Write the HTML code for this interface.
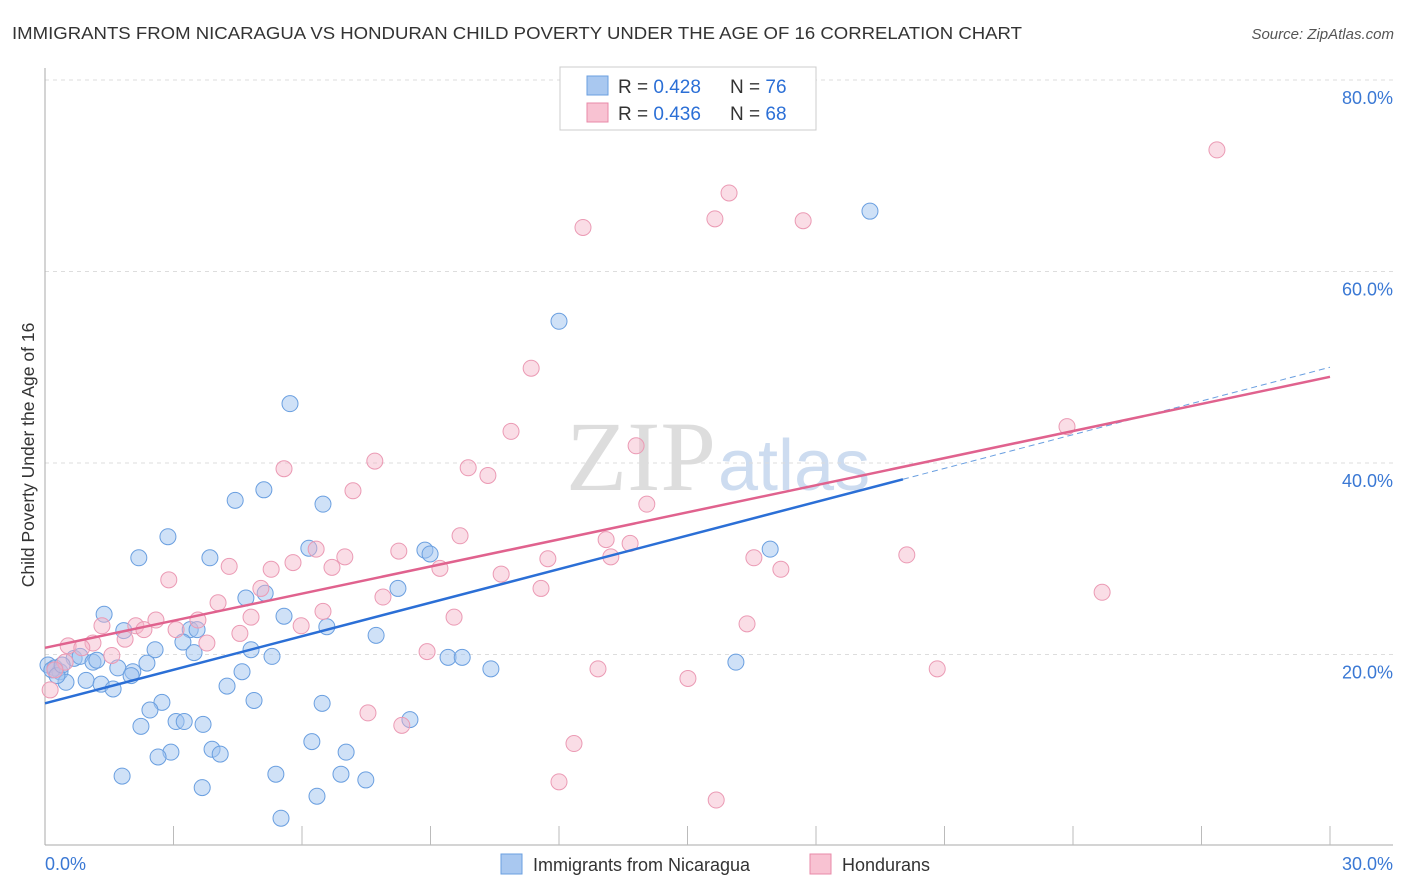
<!DOCTYPE html>
<html><head><meta charset="utf-8"><style>
body{margin:0;background:#fff;font-family:"Liberation Sans",sans-serif;}
svg{display:block}
</style></head><body>
<svg id="chart" width="1406" height="892">
<text x="12" y="39" font-size="17.5" fill="#333" textLength="1010" lengthAdjust="spacingAndGlyphs">IMMIGRANTS FROM NICARAGUA VS HONDURAN CHILD POVERTY UNDER THE AGE OF 16 CORRELATION CHART</text>
<text x="1394" y="39" font-size="15" fill="#555" font-style="italic" text-anchor="end">Source: ZipAtlas.com</text>
<text x="716" y="490" font-size="100" fill="#ddd" text-anchor="end" font-family="Liberation Serif">ZIP</text>
<text x="718" y="490" font-size="72" fill="#cddcf0">atlas</text>
<g id="grid"></g><g id="axes"></g><g id="pts"></g><g id="trend"></g>
<text transform="translate(34,455) rotate(-90)" font-size="17.5" fill="#333" text-anchor="middle">Child Poverty Under the Age of 16</text>
<g>
<rect x="560" y="67" width="256" height="63" fill="#fff" stroke="#ccc"/>
<rect x="587" y="76" width="21" height="19" fill="#a9c8f0" stroke="#6a9fe0"/>
<rect x="587" y="103" width="21" height="19" fill="#f8c2d2" stroke="#e88aa8"/>
<text x="618" y="93" font-size="19" fill="#333">R = <tspan fill="#2b6fd6">0.428</tspan></text>
<text x="730" y="93" font-size="19" fill="#333">N = <tspan fill="#2b6fd6">76</tspan></text>
<text x="618" y="120" font-size="19" fill="#333">R = <tspan fill="#2b6fd6">0.436</tspan></text>
<text x="730" y="120" font-size="19" fill="#333">N = <tspan fill="#2b6fd6">68</tspan></text>
</g>
<g>
<rect x="501" y="854" width="21" height="20" fill="#a9c8f0" stroke="#6a9fe0"/>
<text x="533" y="871" font-size="18" fill="#333">Immigrants from Nicaragua</text>
<rect x="810" y="854" width="21" height="20" fill="#f8c2d2" stroke="#e88aa8"/>
<text x="842" y="871" font-size="18" fill="#333">Hondurans</text>
</g>
</svg>
<script>
const blueX=[19.26,12.0,5.72,4.44,5.11,6.49,2.87,2.19,3.85,6.16,8.87,8.99,16.93,8.24,4.69,5.14,1.38,5.58,6.58,1.84,3.39,3.55,7.73,3.22,2.57,3.48,4.81,5.30,9.41,9.74,16.13,10.41,0.07,0.23,0.35,0.49,0.68,0.82,1.12,1.21,0.96,1.31,1.59,1.70,2.05,2.01,2.38,4.60,4.25,2.73,4.88,6.47,2.45,3.06,3.25,3.69,2.24,8.52,6.23,7.03,3.90,4.09,2.94,2.64,1.80,5.39,6.91,7.49,3.67,6.35,5.51,0.16,0.28,0.40];
const blueY=[66.3,54.8,46.2,36.1,37.2,35.7,32.3,30.1,30.1,31.1,30.9,30.5,31.0,26.9,25.9,26.4,24.2,24.0,22.9,22.5,22.6,22.6,22.0,21.3,20.5,20.2,20.5,19.8,19.7,19.7,19.2,18.5,18.9,18.6,18.2,17.1,19.6,19.8,19.2,19.4,17.3,16.9,16.4,18.6,18.2,17.8,19.1,18.2,16.7,15.0,15.2,14.9,14.2,13.0,13.0,12.7,12.5,13.2,10.9,9.8,10.1,9.6,9.8,9.3,7.3,7.5,7.5,6.9,6.1,5.2,2.9,18.4,17.8,18.9];
const pinkX=[27.36,15.97,15.64,17.70,12.56,11.35,23.86,10.88,13.80,5.58,7.70,9.88,10.34,7.19,14.05,9.69,13.10,13.66,6.33,7.00,8.26,16.55,20.12,13.21,11.74,5.28,5.79,6.70,4.30,9.22,10.65,17.18,2.89,5.04,11.58,7.89,24.68,4.04,6.49,4.81,9.55,2.59,3.57,2.12,2.31,1.33,3.06,4.55,1.87,5.98,1.12,0.54,0.86,3.78,1.56,8.92,16.39,12.91,15.01,20.83,0.47,0.23,7.54,8.33,12.35,12.00,15.67,0.12];
const pinkY=[72.7,68.2,65.5,65.3,64.6,49.9,43.8,43.3,41.8,39.4,40.2,39.5,38.7,37.1,35.7,32.4,32.0,31.6,31.0,30.2,30.8,30.1,30.4,30.2,30.0,28.9,29.6,29.1,29.2,29.0,28.4,28.9,27.8,26.9,26.9,26.0,26.5,25.4,24.5,23.9,23.9,23.6,23.6,23.0,22.6,23.0,22.6,22.2,21.6,23.0,21.2,20.9,20.7,21.2,19.9,20.3,23.2,18.5,17.5,18.5,19.2,18.4,13.9,12.6,10.7,6.7,4.8,16.3];
const blueTrend=[14.9,38.3,50.0];
const blueTrendX=[0,20.03,30];
const pinkTrend=[20.7,49.0];
const pinkTrendX=[0,30];
const yTicks=[20,40,60,80];
const xTickLabels=["0.0%","30.0%"];
const NS="http://www.w3.org/2000/svg";
const sx=v=>45+v/30*1285;
const sy=v=>846-v/20*191.5;
function mk(tag,attrs,parent){const e=document.createElementNS(NS,tag);for(const k in attrs)e.setAttribute(k,attrs[k]);parent.appendChild(e);return e;}
const grid=document.getElementById('grid'),axes=document.getElementById('axes'),pts=document.getElementById('pts'),tr=document.getElementById('trend');
yTicks.forEach(t=>{
 const l=mk('line',{x1:45,x2:1393,y1:sy(t),y2:sy(t),stroke:'#ddd','stroke-dasharray':'4,4'},grid);
 
 
 const tx=mk('text',{x:1393,y:sy(t)+24,'font-size':18,fill:'#3a78d4','text-anchor':'end'},grid);
 tx.textContent=t.toFixed(1)+'%';
 
 
});
const ya=mk('line',{x1:45,x2:45,y1:68,y2:845,stroke:'#aaa'},axes);


const xa=mk('line',{x1:45,x2:1393,y1:845,y2:845,stroke:'#aaa'},axes);


for(let i=1;i<=10;i++){const t=mk('line',{x1:sx(i*3),x2:sx(i*3),y1:826,y2:845,stroke:'#bbb'},axes);
 
 }
[[0,'start',45],[30,'end',1393]].forEach((d,i)=>{const t=mk('text',{x:d[2],y:870,'font-size':18,fill:'#3a78d4','text-anchor':d[1]},axes);t.textContent=xTickLabels[i];
 
 });
blueX.forEach((x,i)=>{const c=mk('circle',{cx:sx(x),cy:sy(blueY[i]),r:8,fill:'rgba(160,195,240,0.5)',stroke:'#6a9fe0','stroke-width':1},pts);
 
 });
pinkX.forEach((x,i)=>{const c=mk('circle',{cx:sx(x),cy:sy(pinkY[i]),r:8,fill:'rgba(245,180,200,0.45)',stroke:'#eb9ab4','stroke-width':1},pts);
 
 });
const b1=mk('line',{x1:sx(blueTrendX[0]),y1:sy(blueTrend[0]),x2:sx(blueTrendX[1]),y2:sy(blueTrend[1]),stroke:'#2b6fd6','stroke-width':2.5},tr);


const b2=mk('line',{x1:sx(blueTrendX[1]),y1:sy(blueTrend[1]),x2:sx(blueTrendX[2]),y2:sy(blueTrend[2]),stroke:'#6a9fe0','stroke-width':1,'stroke-dasharray':'6,4'},tr);


const p1=mk('line',{x1:sx(pinkTrendX[0]),y1:sy(pinkTrend[0]),x2:sx(pinkTrendX[1]),y2:sy(pinkTrend[1]),stroke:'#e0628e','stroke-width':2.5},tr);


</script>
</body></html>
